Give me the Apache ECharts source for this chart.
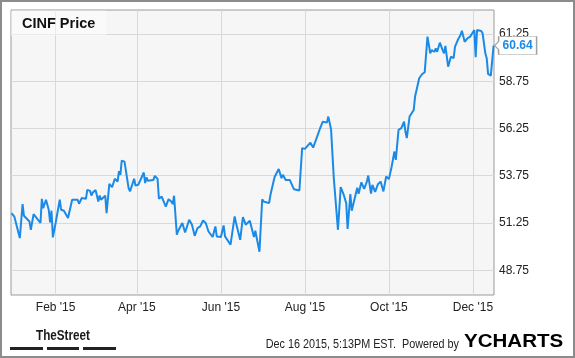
<!DOCTYPE html>
<html>
<head>
<meta charset="utf-8">
<script src="https://cdn.jsdelivr.net/npm/echarts@6/dist/echarts.min.js"></script>
<style>
html,body{margin:0;padding:0;background:#fff;}
#wrap{position:relative;width:575px;height:358px;}
#chart{position:absolute;left:0;top:0;width:575px;height:358px;}
#frame{position:absolute;left:0;top:0;width:575px;height:358px;box-sizing:border-box;border:2px solid #8c8c8c;pointer-events:none;}
</style>
</head>
<body>
<div id="wrap"><div id="chart"></div><div id="frame"></div></div>
<script>
// Day of year in 2015 (0 = Dec 31 2014) for each trading point
const days = [0,2,6,8,9,13,14,16,21,22,23,25,27,28,29,30,32,35,36,38,41,44,48,49,51,54,55,57,58,59,61,63,64,65,68,69,71,73,75,77,78,79,80,82,83,85,86,89,90,92,96,97,98,99,103,104,106,107,109,110,112,113,114,116,117,118,120,121,124,126,129,131,133,135,137,139,141,143,146,148,149,152,154,155,159,160,162,163,166,168,170,173,176,177,180,182,183,187,188,189,191,194,196,197,199,202,205,209,211,213,217,219,224,226,229,230,232,234,237,239,241,243,244,246,247,251,252,254,256,258,259,261,262,264,266,268,270,272,274,276,278,279,281,283,285,286,287,289,292,293,296,298,300,302,304,305,307,308,309,311,313,314,315,317,319,321,322,324,326,327,329,331,333,334,336,337,338,341,342,344,345,346,348,349,350];
const prices = [51.77,51.59,50.45,52.25,51.63,51.33,50.89,51.72,51.25,52.53,52.04,52.48,51.95,51.28,51.9,50.49,51.25,52.48,51.95,51.9,51.51,52.48,52.48,52.27,52.57,52.53,53.0,52.95,52.7,52.86,53.0,52.39,52.7,52.48,52.7,51.77,53.32,53.15,53.59,53.44,54.0,53.8,54.55,54.5,54.42,53.09,52.92,53.59,53.23,53.27,53.92,53.36,53.66,53.48,53.53,53.74,53.59,52.53,52.65,52.74,52.12,52.09,52.51,52.39,52.25,52.69,50.63,50.84,51.25,50.75,51.42,51.16,50.57,50.98,51.07,51.38,51.25,50.8,50.51,51.07,50.54,50.51,51.12,50.54,50.1,50.14,51.6,51.25,50.36,51.56,51.16,51.37,50.51,50.84,49.73,52.51,52.39,52.3,52.74,52.69,53.68,54.11,53.62,53.8,53.53,53.53,53.04,52.97,55.21,55.17,55.5,55.24,56.25,56.61,56.56,56.88,56.2,53.6,50.89,53.15,52.78,52.3,50.93,52.78,51.9,53.12,52.8,53.4,53.05,53.44,53.76,52.8,53.27,52.9,53.3,53.44,52.92,53.71,53.57,54.24,55.03,54.59,56.18,56.27,56.61,56.09,55.74,56.88,57.23,57.94,58.91,59.12,59.23,61.11,60.23,60.4,60.31,60.49,60.31,60.79,60.4,60.23,60.62,59.52,60.05,59.97,60.58,60.93,61.2,61.42,60.84,61.02,61.11,61.07,61.46,60.02,61.46,61.41,61.29,60.23,59.97,59.14,59.05,58.96,60.64];
const yTicks = [48.75, 51.25, 53.75, 56.25, 58.75, 61.25];
const xTickDates = ['2015-02-01','2015-04-01','2015-06-01','2015-08-01','2015-10-01','2015-12-01'];
const monthNames = ['Jan','Feb','Mar','Apr','May','Jun','Jul','Aug','Sep','Oct','Nov','Dec'];
const lastLabel = '60.64';
const titleText = 'CINF Price';
const stampText = 'Dec 16 2015, 5:13PM EST.  Powered by';

const DAY = 86400000;
const base = Date.UTC(2015, 0, 1);
const dayOf = s => Math.round((Date.parse(s + 'T00:00:00Z') - base) / DAY) + 1;
const dayToMonth = d => new Date(base + (d - 1) * DAY).getUTCMonth();
const data = days.map((d, i) => [d, prices[i]]);
const xTicks = xTickDates.map(dayOf);
const last = data[data.length - 1];
const BLUE = '#1b8ae6';
const FONT = '"Liberation Sans", Arial, sans-serif';

const chart = echarts.init(document.getElementById('chart'), null, {renderer: 'canvas'});
chart.setOption({
  animation: false,
  backgroundColor: '#ffffff',
  title: {
    text: titleText,
    left: 11, top: 11,
    padding: [6, 11, 4, 11],
    backgroundColor: 'rgba(255,255,255,0.45)',
    textStyle: {fontFamily: FONT, fontSize: 14.5, fontWeight: 'bold', color: '#111', lineHeight: 14}
  },
  grid: {
    left: 11, top: 10, right: 81, bottom: 63,
    show: true, backgroundColor: '#f6f6f6', borderColor: '#9a9a9a', borderWidth: 1,
    containLabel: false
  },
  xAxis: {
    type: 'value',
    min: -0.4, max: 350.3,
    axisLine: {show: false},
    axisTick: {show: false, customValues: xTicks},
    axisLabel: {
      customValues: xTicks,
      margin: 7,
      color: '#222', fontSize: 12, fontFamily: FONT,
      formatter: v => monthNames[dayToMonth(v)] + " '15"
    },
    splitLine: {show: true, lineStyle: {color: '#d9d9d9', width: 1}}
  },
  yAxis: {
    type: 'value', position: 'right',
    min: 47.44, max: 62.52,
    axisLine: {show: false},
    axisTick: {show: false, customValues: yTicks},
    axisLabel: {
      customValues: yTicks,
      margin: 5,
      color: '#222', fontSize: 12, fontFamily: FONT,
      formatter: v => v.toFixed(2)
    },
    splitLine: {show: true, lineStyle: {color: '#d9d9d9', width: 1}}
  },
  series: [{
    type: 'line',
    data: data,
    showSymbol: false,
    symbol: 'none',
    lineStyle: {color: BLUE, width: 2},
    markPoint: {
      silent: true,
      symbol: 'path://M4,0 L42,0 L42,18 L4,18 L4,13 L0,9 L4,5 Z',
      symbolSize: [42, 18],
      symbolOffset: [22, 0],
      itemStyle: {color: '#ffffff', borderColor: '#a0a0a0', borderWidth: 1},
      label: {
        show: true, position: 'inside', offset: [2, 0],
        formatter: lastLabel,
        color: BLUE, fontWeight: 'bold', fontSize: 12, fontFamily: FONT
      },
      data: [{coord: last}]
    }
  }],
  graphic: [
    {type: 'text', x: 36, y: 328, scaleX: 0.78, style: {text: 'TheStreet', font: 'bold 15px "Liberation Sans", Arial', fill: '#1a1a1a'}},
    {type: 'rect', shape: {x: 10, y: 347, width: 33, height: 3}, style: {fill: '#222'}},
    {type: 'rect', shape: {x: 47, y: 347, width: 32, height: 3}, style: {fill: '#222'}},
    {type: 'rect', shape: {x: 83, y: 347, width: 33, height: 3}, style: {fill: '#222'}},
    {type: 'text', x: 459, y: 345, scaleX: 0.9, style: {text: stampText, font: '12px "Liberation Sans", Arial', fill: '#222', align: 'right', verticalAlign: 'middle'}},
    {type: 'text', x: 464, y: 342, scaleX: 1.08, style: {
      text: '{y|Y}{c|CHARTS}', verticalAlign: 'middle',
      rich: {
        y: {fontFamily: FONT, fontWeight: 'bold', fontSize: 19, color: BLUE},
        c: {fontFamily: FONT, fontWeight: 'bold', fontSize: 19, color: '#1b2433'}
      }
    }}
  ]
});
</script>
</body>
</html>
